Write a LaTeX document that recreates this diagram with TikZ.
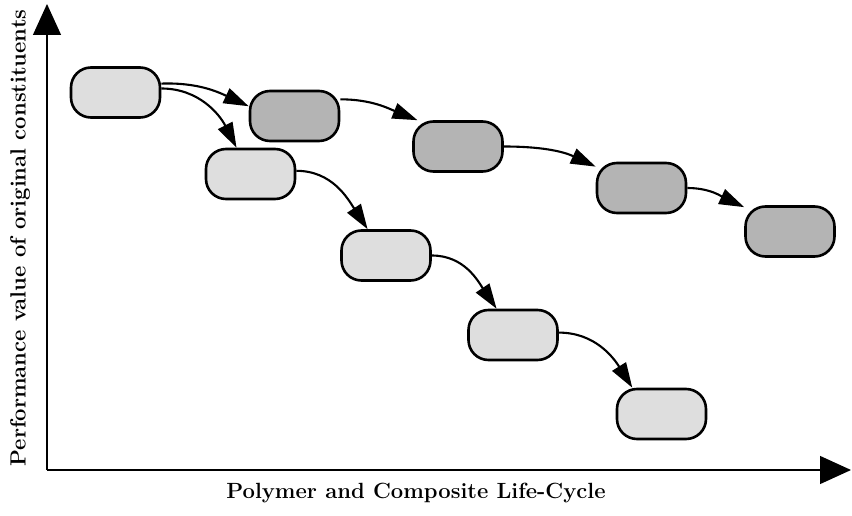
\documentclass[tikz,border=0pt]{standalone}
\usepackage{fontspec}
\usetikzlibrary{arrows.meta}

\definecolor{stagelight}{HTML}{DEDEDE}
\definecolor{stagedark}{HTML}{B4B4B4}

\tikzset{
  stagebox/.style={draw=black, line width=2.6pt, rounded corners=20pt,
    minimum width=89pt, minimum height=50pt, inner sep=0pt},
  lightstage/.style={stagebox, fill=stagelight},
  darkstage/.style={stagebox, fill=stagedark},
  flow/.style={line width=2.1pt, -{Triangle[length=25pt,width=16pt]}},
  axis/.style={line width=1.3pt, -{Triangle[length=31pt,width=28pt]}},
  axislabel/.style={font=\fontsize{22}{24}\selectfont\bfseries, inner sep=0pt}
}

\begin{document}
\begin{tikzpicture}[x=1pt,y=1pt]
  \useasboundingbox (0,0) rectangle (852,515);

  % axes
  \coordinate (origin) at (47,45);
  \coordinate (ytip) at (47,511);
  \coordinate (xtip) at (851,45);
  \draw[axis] (origin) -- (ytip);
  \draw[axis] (origin) -- (xtip);

  \node[axislabel, anchor=base] (xlabel) at (416,17) {Polymer and Composite Life-Cycle};
  \node[axislabel, anchor=base, rotate=90] (ylabel) at (25.5,277) {Performance value of original constituents};

  % life-cycle stages
  \node[lightstage] (a)  at (115.5,422.5) {};
  \node[darkstage]  (b1) at (294.5,399) {};
  \node[darkstage]  (b2) at (458,368.5) {};
  \node[darkstage]  (b3) at (641.5,327) {};
  \node[darkstage]  (b4) at (790,283.5) {};
  \node[lightstage] (c1) at (250.5,341) {};
  \node[lightstage] (c2) at (386,259.5) {};
  \node[lightstage] (c3) at (513,180) {};
  \node[lightstage] (c4) at (661.5,101) {};

  % upper branch
  \draw[flow] (a.11) to[out=2, in=155] (b1.168);
  \draw[flow] (b1.20) to[out=0, in=158] (b2.147);
  \draw[flow] (b2.east) to[out=0, in=155] (b3.155);
  \draw[flow] (b3.east) to[out=0, in=155] (b4.152);

  % lower branch
  \draw[flow] (a.5) to[out=0, in=117] (c1.118);
  \draw[flow] (c1.4) to[out=0, in=123] (c2.125);
  \draw[flow] (c2.east) to[out=0, in=124] (c3.122);
  \draw[flow] (c3.3) to[out=0, in=122] (c4.138);
\end{tikzpicture}
\end{document}
